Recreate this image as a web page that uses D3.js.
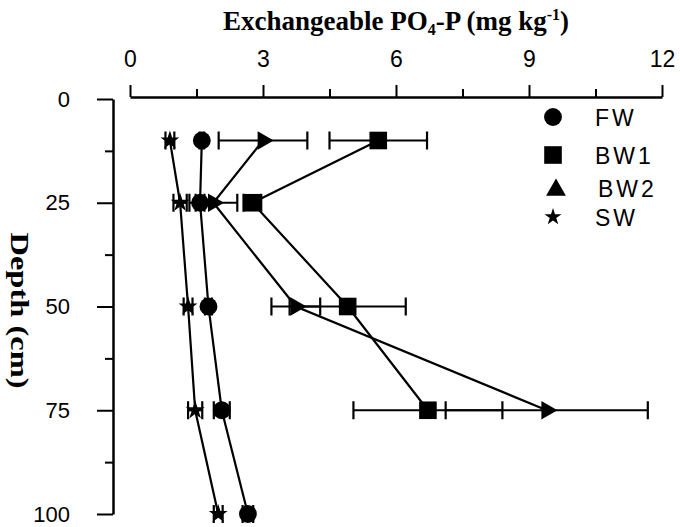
<!DOCTYPE html>
<html>
<head>
<meta charset="utf-8">
<script src="https://cdn.jsdelivr.net/npm/d3@7"></script>
<style>
  body { margin: 0; background: #fff; }
  svg { display: block; }
  .tick text { font-family: "Liberation Sans", Arial, sans-serif; }
</style>
</head>
<body>
<svg id="chart" width="680" height="527"></svg>
<script>
// depths (cm) and exchangeable PO4-P (mg/kg)
const depths = [10, 25, 50, 75, 100];
const fwMean = [1.62, 1.58, 1.77, 2.07, 2.66];
const fwErr = [0.05, 0.1, 0.08, 0.18, 0.12];
const bw1Mean = [5.6, 2.76, 4.91, 6.72];
const bw1Err = [1.1, 0.2, 1.31, 1.68];
const bw2Mean = [3.0, 1.88, 3.74, 9.4];
const bw2Err = [1.0, 0.54, 0.55, 2.28];
const swMean = [0.9, 1.13, 1.31, 1.47, 1.99];
const swErr = [0.1, 0.15, 0.1, 0.16, 0.1];

const xTicks = [0, 3, 6, 9, 12];
const yTicks = [0, 25, 50, 75, 100];

const svg = d3.select("#chart");

const x = d3.scaleLinear().domain([0, 12]).range([130, 662]);
const y = d3.scaleLinear().domain([0, 100]).range([99, 514]);
const axisY = 97, axisX = 113;

// series table built from the arrays
const series = [
  { name: "FW", mean: fwMean, err: fwErr, sym: d3.symbolCircle, size: 250, rot: 0 },
  { name: "BW1", mean: bw1Mean, err: bw1Err, sym: d3.symbolSquare, size: 310, rot: 0 },
  { name: "BW2", mean: bw2Mean, err: bw2Err, sym: d3.symbolTriangle, size: 150, rot: 90 },
  { name: "SW", mean: swMean, err: swErr, sym: d3.symbolStar, size: 110, rot: 0 }
].map(s => ({ ...s, pts: s.mean.map((m, i) => ({ v: m, e: s.err[i], d: depths[i] })) }));

// x axis on top
const xg = svg.append("g").attr("transform", `translate(0,${axisY})`);
xg.call(d3.axisTop(x).tickValues(d3.range(1.5, 12, 3)).tickSize(8).tickSizeOuter(0).tickFormat(""));
xg.call(g => g.select(".domain").remove());
const xg2 = svg.append("g").attr("transform", `translate(0,${axisY})`)
  .call(d3.axisTop(x).tickValues(xTicks).tickSize(12).tickSizeOuter(0).tickPadding(18));
xg2.selectAll("text").attr("font-size", 23).attr("fill", "#000");
[xg, xg2].forEach(g => g.selectAll("line").attr("stroke", "#000").attr("stroke-width", 2));
xg2.select(".domain").attr("stroke", "#000").attr("stroke-width", 2.5);

// y axis, ticks pointing left
const yg = svg.append("g").attr("transform", `translate(${axisX},0)`);
yg.call(d3.axisLeft(y).tickValues(d3.range(12.5, 100, 25)).tickSize(8).tickSizeOuter(0).tickFormat(""));
yg.call(g => g.select(".domain").remove());
const yg2 = svg.append("g").attr("transform", `translate(${axisX},0)`)
  .call(d3.axisLeft(y).tickValues(yTicks).tickSize(16).tickSizeOuter(0).tickPadding(27));
yg2.selectAll("text").attr("font-size", 22).attr("fill", "#000");
[yg, yg2].forEach(g => g.selectAll("line").attr("stroke", "#000").attr("stroke-width", 2));
yg2.select(".domain").attr("stroke", "#000").attr("stroke-width", 2.5);

// titles
svg.append("text")
  .attr("x", (x(0) + x(12)) / 2).attr("y", 30)
  .attr("text-anchor", "middle")
  .attr("font-family", "'Liberation Serif', 'Times New Roman', serif")
  .attr("font-weight", "bold").attr("font-size", 27)
  .call(t => {
    t.append("tspan").text("Exchangeable PO");
    t.append("tspan").attr("font-size", 16).attr("dy", 5).text("4");
    t.append("tspan").attr("dy", -5).text("-P (mg kg");
    t.append("tspan").attr("font-size", 16).attr("dy", -10).text("-1");
    t.append("tspan").attr("dy", 10).text(")");
  });

svg.append("text")
  .attr("transform", `translate(11,${(y(0) + y(100)) / 2 + 4}) rotate(90)`)
  .attr("text-anchor", "middle")
  .attr("font-family", "'Liberation Serif', 'Times New Roman', serif")
  .attr("font-weight", "bold").attr("font-size", 26)
  .attr("textLength", 156).attr("lengthAdjust", "spacingAndGlyphs")
  .text("Depth (cm)");

// connecting lines
const line = d3.line().x(d => x(d.v)).y(d => y(d.d));
svg.append("g").selectAll("path").data(series).join("path")
  .attr("d", s => line(s.pts))
  .attr("fill", "none").attr("stroke", "#000").attr("stroke-width", 2.2);

// error bars
const eb = svg.append("g").attr("stroke", "#000").attr("stroke-width", 2.2);
series.forEach(s => {
  s.pts.forEach(p => {
    eb.append("line").attr("x1", x(p.v - p.e)).attr("x2", x(p.v + p.e))
      .attr("y1", y(p.d)).attr("y2", y(p.d));
    [p.v - p.e, p.v + p.e].forEach(v => {
      eb.append("line").attr("x1", x(v)).attr("x2", x(v))
        .attr("y1", y(p.d) - 9).attr("y2", y(p.d) + 9);
    });
  });
});

// markers
series.forEach(s => {
  svg.append("g").selectAll("path").data(s.pts).join("path")
    .attr("d", d3.symbol().type(s.sym).size(s.size))
    .attr("transform", d => `translate(${x(d.v)},${y(d.d)}) rotate(${s.rot})`)
    .attr("fill", "#000");
});

// legend
const legendY = [117, 155, 188, 217];
const legendTextX = [595, 595, 598, 595];
const lg = svg.append("g");
series.forEach((s, i) => {
  lg.append("path")
    .attr("d", d3.symbol().type(s.sym).size(s.name === "SW" ? 90 : s.name === "BW2" ? 170 : s.size))
    .attr("transform", `translate(${s.name === "BW2" ? 556 : 553},${legendY[i] + (s.name === "BW2" ? 2 : 0)})`)
    .attr("fill", "#000");
  lg.append("text")
    .attr("x", legendTextX[i]).attr("y", legendY[i] + 9)
    .attr("font-family", "'Liberation Sans', Arial, sans-serif")
    .attr("font-size", 23).attr("letter-spacing", 3)
    .text(s.name);
});
</script>
</body>
</html>
